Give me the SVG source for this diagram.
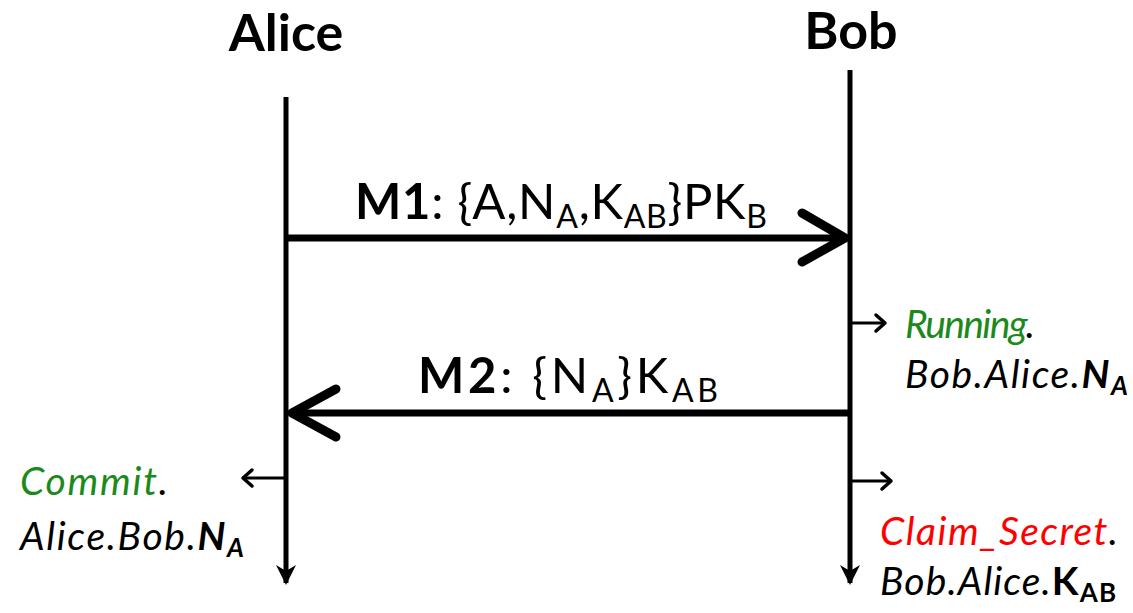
<svg xmlns="http://www.w3.org/2000/svg" width="1133" height="613" viewBox="0 0 1133 613">
  <style>
    .t { font-family: Lato, "Open Sans", sans-serif; fill: #000; }
    .head { font-size: 52px; font-weight: bold; }
    .msg { font-size: 49px; }
    .note { font-size: 39px; font-style: italic; }
    .green { fill: #1b8a1b; }
    .red { fill: #ff0000; }
    .life { stroke: #000; stroke-width: 5; fill: none; }
    .msgline { stroke: #000; stroke-width: 7; fill: none; }
    .chev { stroke: #000; stroke-width: 9; fill: none; stroke-linecap: round; stroke-linejoin: round; }
    .small { stroke: #000; stroke-width: 3; fill: none; }
    .smallhead { stroke: #000; stroke-width: 3.5; fill: none; stroke-linecap: round; stroke-linejoin: round; }
  </style>
  <defs>
    <marker id="lifeEnd" viewBox="0 0 10 10" refX="9" refY="5" markerWidth="4" markerHeight="4" orient="auto" markerUnits="strokeWidth">
      <path d="M0,0 L10,5 L0,10 L3,5 Z" fill="#000"/>
    </marker>
  </defs>

  <g id="alice">
    <text class="t head" x="286" y="51" text-anchor="middle">Alice</text>
    <line class="life" x1="286" y1="97" x2="286" y2="583" marker-end="url(#lifeEnd)"/>
  </g>

  <g id="bob">
    <text class="t head" x="851" y="49" text-anchor="middle">Bob</text>
    <line class="life" x1="850" y1="70" x2="850" y2="583" marker-end="url(#lifeEnd)"/>
  </g>

  <g id="connectors">
    <!-- M1: Alice to Bob -->
    <line class="msgline" x1="286" y1="238" x2="845" y2="238"/>
    <polyline class="chev" points="802,213 845,238 802,262"/>
    <!-- M2: Bob to Alice -->
    <line class="msgline" x1="850" y1="413" x2="292" y2="413"/>
    <polyline class="chev" points="336,389 292,413 336,437"/>
    <!-- Running event -->
    <line class="small" x1="850" y1="323" x2="885" y2="323"/>
    <polyline class="smallhead" points="876,315 885,323 876,331"/>
    <!-- Commit event -->
    <line class="small" x1="286" y1="478" x2="243" y2="478"/>
    <polyline class="smallhead" points="252,470 243,478 252,486"/>
    <!-- Claim_Secret event -->
    <line class="small" x1="850" y1="481" x2="891" y2="481"/>
    <polyline class="smallhead" points="882,473 891,481 882,489"/>
  </g>

  <g id="label-m1">
    <text class="t msg" x="355" y="219" textLength="412" lengthAdjust="spacing"><tspan font-weight="bold">M1</tspan>: {A,N<tspan font-size="32" dy="9">A</tspan><tspan dy="-9">,K</tspan><tspan font-size="32" dy="9">AB</tspan><tspan dy="-9">}PK</tspan><tspan font-size="32" dy="9">B</tspan></text>
  </g>

  <g id="label-m2">
    <text class="t msg" x="418" y="393" textLength="300" lengthAdjust="spacing"><tspan font-weight="bold">M2</tspan>: {N<tspan font-size="32" dy="9">A</tspan><tspan dy="-9">}K</tspan><tspan font-size="32" dy="9">AB</tspan></text>
  </g>

  <g id="event-running">
    <text class="t note" x="905" y="338" textLength="130" lengthAdjust="spacing"><tspan class="green">Running</tspan>.</text>
    <text class="t note" x="905" y="388" textLength="223" lengthAdjust="spacing">Bob.Alice.<tspan font-weight="bold">N</tspan><tspan font-weight="bold" font-size="26" dy="7">A</tspan></text>
  </g>

  <g id="event-commit">
    <text class="t note" x="20" y="495" textLength="148" lengthAdjust="spacing"><tspan class="green">Commit</tspan>.</text>
    <text class="t note" x="20" y="550" textLength="224" lengthAdjust="spacing">Alice.Bob.<tspan font-weight="bold">N</tspan><tspan font-weight="bold" font-size="26" dy="7">A</tspan></text>
  </g>

  <g id="event-claim">
    <text class="t note" x="880" y="545" textLength="238" lengthAdjust="spacing"><tspan class="red">Claim_Secret</tspan>.</text>
    <text class="t note" x="880" y="595" textLength="236" lengthAdjust="spacing">Bob.Alice.<tspan font-weight="bold" font-style="normal">K</tspan><tspan font-weight="bold" font-style="normal" font-size="26" dy="7">AB</tspan></text>
  </g>
</svg>
